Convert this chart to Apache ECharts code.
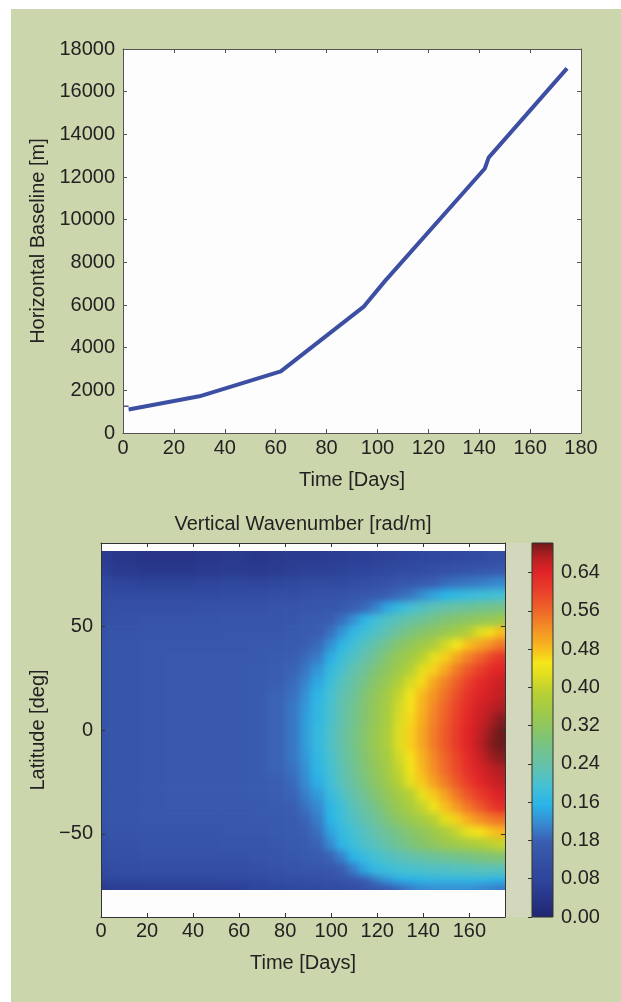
<!DOCTYPE html>
<html><head><meta charset="utf-8">
<script src="https://cdn.jsdelivr.net/npm/echarts@6/dist/echarts.min.js"></script>
<style>
html,body{margin:0;padding:0;background:#fff}
#wrap{position:relative;width:621px;height:1002px;background:#ccd6ad;box-shadow:inset 11px 9px 0 #fff}
#white{position:absolute;background:#fdfdfd}
#hm{position:absolute;left:0;top:0;width:621px;height:1002px;filter:blur(3.5px)}
#c{position:absolute;left:0;top:0;width:621px;height:1002px}
</style>
</head><body>
<div id="wrap"><div id="white"></div><div id="hm"></div><div id="c"></div></div>
<script>
// ---------- top panel: horizontal baseline ----------
const TIME_DAYS  = [2.2, 30, 62, 94.5, 103, 104.5, 142.2, 143.7, 174.5];
const BASELINE_M = [1100, 1720, 2890, 5910, 7130, 7330, 12400, 12910, 17090];
const STUB_DAYS  = [0, 2.2];
const STUB_M     = [1250, 1250];
const X1_MAX = 180, X1_STEP = 20;
const Y1_MAX = 18000, Y1_STEP = 2000;

// ---------- bottom panel: vertical wavenumber field ----------
const DAY_EDGES = [0,4,16,28,40,52,64,72,80,86,91,97,102,107,112,117,122,127,132,137,142,147,152,157,162,167,171,175.5];
const LAT_EDGES = [86,80,74,68,62,56,50,44,38,32,26,20,14,8,2,-4,-10,-16,-22,-28,-34,-40,-46,-52,-58,-64,-70,-74,-77];
const WAVENUMBER = [
 [.05,.04,.035,.035,.04,.045,.04,.045,.05,.05,.05,.055,.055,.06,.06,.065,.065,.07,.07,.075,.08,.08,.085,.09,.09,.095,.10],
 [.06,.045,.04,.04,.045,.05,.045,.05,.055,.06,.06,.06,.065,.07,.07,.075,.08,.085,.09,.095,.10,.105,.11,.115,.12,.125,.13],
 [.08,.07,.065,.065,.07,.075,.07,.075,.08,.085,.085,.085,.09,.095,.10,.105,.11,.12,.125,.135,.14,.15,.155,.16,.165,.17,.175],
 [.09,.09,.09,.09,.09,.095,.095,.10,.10,.105,.11,.11,.115,.12,.125,.13,.14,.15,.16,.18,.195,.21,.22,.23,.235,.24,.245],
 [.10,.105,.105,.105,.11,.11,.11,.115,.115,.12,.12,.125,.13,.14,.15,.17,.20,.225,.245,.26,.275,.285,.295,.30,.31,.315,.32],
 [.105,.11,.115,.115,.115,.12,.12,.12,.125,.13,.135,.14,.155,.18,.215,.24,.26,.275,.29,.305,.32,.335,.345,.355,.365,.37,.38],
 [.11,.115,.12,.12,.12,.125,.125,.125,.13,.135,.14,.155,.185,.22,.24,.26,.28,.305,.33,.345,.36,.375,.39,.415,.45,.48,.50],
 [.115,.12,.125,.125,.125,.125,.13,.13,.135,.14,.15,.18,.215,.24,.265,.29,.315,.345,.365,.385,.405,.44,.475,.50,.52,.54,.56],
 [.115,.12,.125,.13,.13,.13,.13,.135,.14,.15,.165,.205,.235,.26,.285,.31,.345,.37,.39,.42,.455,.49,.52,.55,.575,.60,.62],
 [.115,.12,.125,.13,.13,.13,.135,.14,.145,.16,.185,.225,.25,.28,.305,.335,.36,.385,.415,.455,.49,.52,.555,.585,.61,.635,.645],
 [.115,.12,.125,.13,.13,.13,.135,.14,.15,.17,.20,.235,.265,.29,.32,.35,.375,.41,.445,.485,.52,.55,.58,.61,.635,.65,.66],
 [.115,.12,.125,.13,.13,.13,.135,.145,.155,.18,.215,.245,.275,.30,.335,.365,.39,.43,.47,.505,.535,.565,.595,.625,.645,.655,.665],
 [.115,.12,.125,.13,.13,.13,.135,.145,.16,.185,.22,.25,.28,.31,.34,.37,.395,.44,.48,.51,.545,.575,.605,.635,.655,.665,.675],
 [.115,.12,.125,.13,.13,.13,.135,.145,.16,.19,.22,.25,.28,.31,.34,.37,.40,.445,.485,.515,.55,.58,.61,.64,.66,.675,.69],
 [.115,.12,.125,.13,.13,.13,.135,.145,.16,.19,.225,.255,.285,.315,.345,.375,.405,.45,.49,.52,.555,.585,.615,.645,.665,.685,.70],
 [.115,.12,.125,.13,.13,.13,.135,.145,.16,.19,.225,.255,.285,.315,.345,.375,.405,.45,.49,.52,.555,.585,.615,.645,.67,.69,.70],
 [.115,.12,.125,.13,.13,.13,.135,.145,.16,.185,.22,.25,.28,.31,.34,.37,.395,.44,.48,.51,.545,.575,.605,.635,.66,.68,.69],
 [.115,.12,.125,.13,.13,.13,.135,.145,.155,.18,.215,.245,.275,.305,.335,.365,.39,.43,.47,.505,.54,.57,.60,.63,.65,.665,.675],
 [.115,.12,.125,.13,.13,.13,.135,.14,.15,.175,.205,.24,.27,.295,.325,.355,.38,.42,.455,.495,.525,.555,.585,.615,.64,.655,.665],
 [.115,.12,.125,.13,.13,.13,.135,.14,.145,.165,.19,.23,.255,.285,.31,.34,.365,.39,.42,.46,.495,.525,.56,.59,.615,.635,.65],
 [.115,.12,.125,.13,.13,.13,.13,.135,.14,.155,.175,.215,.24,.27,.295,.32,.35,.375,.40,.43,.465,.50,.53,.56,.585,.61,.63],
 [.115,.12,.125,.125,.125,.125,.13,.13,.135,.145,.165,.21,.235,.26,.28,.305,.33,.355,.375,.395,.42,.455,.49,.515,.54,.555,.565],
 [.11,.115,.12,.12,.12,.125,.125,.13,.135,.14,.155,.195,.225,.245,.265,.285,.305,.325,.345,.36,.38,.40,.43,.46,.48,.495,.505],
 [.105,.11,.115,.115,.115,.12,.12,.125,.13,.135,.145,.175,.215,.235,.255,.27,.29,.31,.33,.345,.36,.375,.385,.395,.405,.42,.43],
 [.10,.105,.11,.11,.11,.11,.115,.12,.125,.13,.135,.145,.17,.21,.23,.245,.26,.27,.28,.29,.30,.31,.315,.32,.33,.335,.34],
 [.09,.095,.10,.10,.10,.10,.105,.11,.115,.12,.12,.125,.14,.165,.20,.225,.235,.245,.25,.255,.26,.26,.265,.265,.27,.27,.27],
 [.07,.075,.08,.08,.08,.085,.09,.095,.10,.10,.105,.11,.115,.125,.14,.165,.19,.205,.21,.215,.22,.22,.22,.22,.22,.215,.21],
 [.05,.055,.055,.055,.06,.06,.07,.075,.08,.085,.085,.09,.095,.10,.11,.12,.135,.15,.165,.175,.18,.18,.18,.18,.175,.17,.165]
];
const X2_TICKS = [0,20,40,60,80,100,120,140,160];
const X2_MAX = 175.5;
const Y2_MIN = -90, Y2_MAX = 90;
const Y2_TICKS = [-50,0,50];
const CB_LABELS = ['0.00','0.08','0.18','0.16','0.24','0.32','0.40','0.48','0.56','0.64'];
const CB_TOP = 9.77;   // colour bar height in label steps
const VMAX = 0.70;     // value at the top of the colour bar

// ---------- styling ----------
const FONT = 'Liberation Sans';
const TXT = '#222';
const GRID2 = {left: 101, top: 543, width: 404, height: 374};
const COLOR_STOPS = [[0,'#1f2570'],[0.05,'#283588'],[0.10,'#2e459b'],[0.15,'#3450a5'],[0.20,'#3a5db0'],
  [0.25,'#3889d0'],[0.30,'#2ab4e8'],[0.35,'#45c0d4'],[0.40,'#62c1ae'],[0.45,'#74c38c'],[0.50,'#8ac565'],
  [0.55,'#a0ca48'],[0.60,'#b9d033'],[0.65,'#e4df1f'],[0.68,'#f6e61a'],[0.72,'#f7b91f'],[0.77,'#f39026'],
  [0.82,'#ef6529'],[0.87,'#e9402a'],[0.92,'#e12428'],[0.96,'#b81f23'],[1,'#6e1a1c']];

function hex(c){return [parseInt(c.slice(1,3),16),parseInt(c.slice(3,5),16),parseInt(c.slice(5,7),16)];}
function colorFor(v){
  const f = Math.max(0, Math.min(1, v / VMAX));
  for (let i = 1; i < COLOR_STOPS.length; i++) {
    const [o1,c1] = COLOR_STOPS[i-1], [o2,c2] = COLOR_STOPS[i];
    if (f <= o2) {
      const t = (f - o1) / (o2 - o1), a = hex(c1), b = hex(c2);
      return 'rgb(' + a.map((x,k)=>Math.round(x + (b[k]-x)*t)).join(',') + ')';
    }
  }
  return COLOR_STOPS[COLOR_STOPS.length-1][1];
}

const cells = [];
for (let i = 0; i < LAT_EDGES.length - 1; i++)
  for (let j = 0; j < DAY_EDGES.length - 1; j++)
    cells.push([DAY_EDGES[j], DAY_EDGES[j+1], LAT_EDGES[i+1], LAT_EDGES[i], WAVENUMBER[i][j]]);

const lineData = TIME_DAYS.map((t,i)=>[t, BASELINE_M[i]]);
const stubData = STUB_DAYS.map((t,i)=>[t, STUB_M[i]]);

// ---------- heat-map layer (softened, clipped to the data extent) ----------
const PAD = 14; // edge cells are drawn past the data extent so the softening does not fade the borders
const hmChart = echarts.init(document.getElementById('hm'), null, {renderer: 'canvas'});
hmChart.setOption({
  animation: false,
  grid: [Object.assign({show: false}, GRID2)],
  xAxis: [{type: 'value', min: 0, max: X2_MAX, show: false}],
  yAxis: [{type: 'value', min: Y2_MIN, max: Y2_MAX, show: false}],
  series: [{
    type: 'custom', data: cells, clip: false, encode: {x: [0, 1], y: [2, 3]},
    renderItem: function (params, api) {
      const x0 = api.value(0), x1 = api.value(1), y0 = api.value(2), y1 = api.value(3);
      const p0 = api.coord([x0, y1]);
      const p1 = api.coord([x1, y0]);
      let l = p0[0], t = p0[1], r = p1[0] + 0.7, b = p1[1] + 0.7;
      if (x0 === DAY_EDGES[0]) l -= PAD;
      if (x1 === DAY_EDGES[DAY_EDGES.length-1]) r += PAD;
      if (y1 === LAT_EDGES[0]) t -= PAD;
      if (y0 === LAT_EDGES[LAT_EDGES.length-1]) b += PAD;
      return {type: 'rect', shape: {x: l, y: t, width: r - l, height: b - t},
        style: {fill: colorFor(api.value(4))}};
    }
  }]
});
const tl = hmChart.convertToPixel({gridIndex: 0}, [DAY_EDGES[0], LAT_EDGES[0]]);
const br = hmChart.convertToPixel({gridIndex: 0}, [DAY_EDGES[DAY_EDGES.length-1], LAT_EDGES[LAT_EDGES.length-1]]);
document.getElementById('hm').style.clipPath =
  'inset(' + tl[1] + 'px ' + (621 - br[0]) + 'px ' + (1002 - br[1]) + 'px ' + tl[0] + 'px)';

// ---------- main layer ----------
const lbl = {fontFamily: FONT, fontSize: 20, color: TXT};
function frameAxis(extra, color){
  return Object.assign({
    type: 'value', z: 10,
    splitLine: {show: false},
    axisLine: {show: true, onZero: false, lineStyle: {color: color, width: 1}},
    axisTick: {show: true, inside: true, length: 4, lineStyle: {color: color}},
    axisLabel: Object.assign({show: true}, lbl),
    nameTextStyle: lbl
  }, extra);
}
const fmtLat = v => v < 0 ? '\u2212' + Math.abs(v) : String(v);
const tick2 = vals => ({show: true, inside: true, length: 4, customValues: vals, lineStyle: {color: '#333'}});

const option = {
  animation: false,
  backgroundColor: 'transparent',
  title: {
    text: 'Vertical Wavenumber [rad/m]', left: 303, top: 514, textAlign: 'center', padding: 0,
    textStyle: {fontFamily: FONT, fontSize: 20, fontWeight: 'normal', color: TXT}
  },
  graphic: [{type: 'rect', left: 506, top: 543, shape: {width: 24, height: 374}, style: {fill: '#d3d8bd'}, silent: true}],
  grid: [
    {left: 123, top: 49, width: 458, height: 384, show: true, backgroundColor: '#fdfdfd', borderWidth: 0},
    Object.assign({show: false}, GRID2),
    {left: 532, top: 543, width: 21, height: 374, show: false}
  ],
  xAxis: [
    frameAxis({gridIndex: 0, min: 0, max: X1_MAX, interval: X1_STEP, position: 'bottom',
      axisLabel: Object.assign({margin: 5}, lbl),
      name: 'Time [Days]', nameLocation: 'middle', nameGap: 37}, '#555'),
    frameAxis({gridIndex: 0, min: 0, max: X1_MAX, interval: X1_STEP, position: 'top',
      axisLabel: {show: false}}, '#555'),
    frameAxis({gridIndex: 1, min: 0, max: X2_MAX, position: 'bottom', axisTick: tick2(X2_TICKS),
      axisLabel: Object.assign({margin: 4, customValues: X2_TICKS}, lbl),
      name: 'Time [Days]', nameLocation: 'middle', nameGap: 36}, '#333'),
    frameAxis({gridIndex: 1, min: 0, max: X2_MAX, position: 'top', axisTick: tick2(X2_TICKS),
      axisLabel: {show: false}}, '#333'),
    {type: 'value', gridIndex: 2, min: 0, max: 1, show: false}
  ],
  yAxis: [
    frameAxis({gridIndex: 0, min: 0, max: Y1_MAX, interval: Y1_STEP, position: 'left',
      axisLabel: Object.assign({margin: 8, formatter: v => String(v)}, lbl),
      name: 'Horizontal Baseline [m]', nameLocation: 'middle', nameGap: 75}, '#555'),
    frameAxis({gridIndex: 0, min: 0, max: Y1_MAX, interval: Y1_STEP, position: 'right',
      axisLabel: {show: false}}, '#555'),
    frameAxis({gridIndex: 1, min: Y2_MIN, max: Y2_MAX, position: 'left', axisTick: tick2(Y2_TICKS),
      axisLabel: Object.assign({margin: 8, customValues: Y2_TICKS, formatter: fmtLat}, lbl),
      name: 'Latitude [deg]', nameLocation: 'middle', nameGap: 52}, '#333'),
    frameAxis({gridIndex: 1, min: Y2_MIN, max: Y2_MAX, position: 'right', axisTick: tick2(Y2_TICKS),
      axisLabel: {show: false}}, '#333'),
    {type: 'value', gridIndex: 2, min: 0, max: CB_TOP, position: 'right', z: 10,
      splitLine: {show: false}, axisLine: {show: false},
      axisTick: tick2(CB_LABELS.map((_, i) => i)),
      axisLabel: Object.assign({margin: 8, customValues: CB_LABELS.map((_, i) => i),
        formatter: v => CB_LABELS[Math.round(v)] || ''}, lbl)}
  ],
  series: [
    {type: 'line', xAxisIndex: 0, yAxisIndex: 0, data: stubData, symbol: 'none',
      lineStyle: {color: '#4a5590', width: 1.5}, z: 3},
    {type: 'line', xAxisIndex: 0, yAxisIndex: 0, data: lineData, symbol: 'none',
      lineStyle: {color: '#3d4fa3', width: 4}, z: 4},
    {type: 'custom', xAxisIndex: 4, yAxisIndex: 4, data: [[0, 1, 0, CB_TOP]],
      encode: {x: [0, 1], y: [2, 3]},
      renderItem: function (params, api) {
        const p0 = api.coord([api.value(0), api.value(3)]);
        const p1 = api.coord([api.value(1), api.value(2)]);
        return {type: 'rect',
          shape: {x: p0[0], y: p0[1], width: p1[0] - p0[0], height: p1[1] - p0[1]},
          style: {fill: {type: 'linear', x: 0, y: 1, x2: 0, y2: 0,
            colorStops: COLOR_STOPS.map(s => ({offset: s[0], color: s[1]}))},
            stroke: '#333', lineWidth: 1}};
      }}
  ]
};
const chart = echarts.init(document.getElementById('c'), null, {renderer: 'canvas'});
chart.setOption(option);

// white plot background of the lower panel, placed from the library's own scale
const wa = chart.convertToPixel({xAxisIndex: 2, yAxisIndex: 2}, [0, Y2_MAX]);
const wb = chart.convertToPixel({xAxisIndex: 2, yAxisIndex: 2}, [X2_MAX, Y2_MIN]);
const w = document.getElementById('white');
w.style.left = wa[0] + 'px'; w.style.top = wa[1] + 'px';
w.style.width = (wb[0] - wa[0]) + 'px'; w.style.height = (wb[1] - wa[1]) + 'px';
</script>
</body></html>
